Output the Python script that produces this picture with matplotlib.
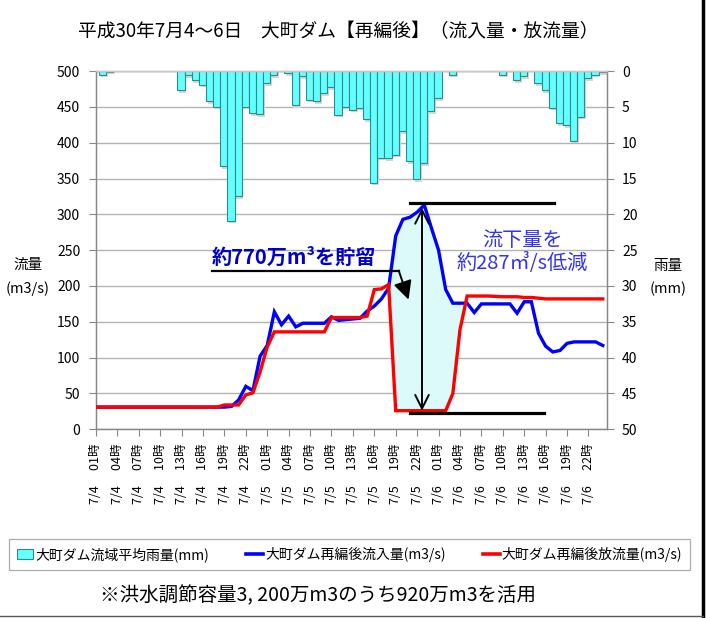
import numpy as np
import matplotlib
matplotlib.use("Agg")
import matplotlib.pyplot as plt
from matplotlib.patches import Patch
from matplotlib.lines import Line2D

plt.rcParams['font.family'] = ['Noto Sans CJK JP', 'DejaVu Sans']

# ---------------- data ----------------
days = ["7/4", "7/5", "7/6"]
hour_index = np.arange(72)          # 0 = 7/4 01時 ... 71 = 7/6 24時
tick_hours = ["01", "04", "07", "10", "13", "16", "19", "22"]
tick_labels = [f"{d}\u3000 {h}時" for d in days for h in tick_hours]

rain = [0, 0.5, 0.1, 0, 0, 0, 0, 0, 0, 0, 0, 0,
        2.7, 0.6, 1.3, 1.9, 4.2, 5.0, 13.3, 20.9, 17.5, 5.0, 5.9, 6.0,
        1.7, 0.6, 0, 0.3, 4.8, 0.7, 4.0, 4.2, 3.1, 2.3, 6.1, 5.0,
        5.4, 5.1, 6.7, 15.6, 12.1, 12.2, 11.7, 8.4, 12.6, 15.1, 12.9, 5.6,
        3.8, 0, 0.5, 0, 0, 0, 0, 0, 0, 0.5, 0, 1.3,
        0.7, 0, 1.7, 2.7, 5.1, 7.3, 7.6, 9.7, 6.4, 1.0, 0.5, 0.2]

inflow = [31, 31, 31, 31, 31, 31, 31, 31, 31, 31, 31, 31,
          31, 31, 31, 31, 31, 31, 31, 32, 41, 60, 54, 102,
          117, 164, 146, 158, 143, 148, 148, 148, 148, 157, 152, 153,
          154, 155, 165, 172, 182, 197, 270, 293, 296, 303, 313, 281,
          250, 195, 176, 176, 176, 163, 175, 175, 175, 175, 175, 162,
          178, 178, 134, 116, 108, 110, 120, 122, 122, 122, 122, 117]

outflow = [31, 31, 31, 31, 31, 31, 31, 31, 31, 31, 31, 31,
           31, 31, 31, 31, 31, 31, 34, 34, 34, 48, 51, 80,
           115, 136, 136, 136, 136, 136, 136, 136, 136, 156, 156, 156,
           156, 156, 158, 195, 196, 202, 26, 26, 26, 26, 26, 26,
           26, 26, 50, 139, 186, 186, 186, 186, 185.5, 185, 185, 185,
           184, 184, 183, 182, 182, 182, 182, 182, 182, 182, 182, 182]

title = "平成30年7月4～6日\u3000大町ダム【再編後】（流入量・放流量）"
label_rain = "大町ダム流域平均雨量(mm)"
label_in = "大町ダム再編後流入量(m3/s)"
label_out = "大町ダム再編後放流量(m3/s)"
note = "※洪水調節容量3, 200万m3のうち920万m3を活用"

# ---------------- figure ----------------
fig = plt.figure(figsize=(7.09, 6.18), dpi=100)
ax = fig.add_axes([0.1347, 0.3053, 0.7210, 0.5798])
ax2 = ax.twinx()
ax.set_zorder(ax2.get_zorder() + 1)
ax.patch.set_visible(False)

x = np.asarray(hour_index, dtype=float)
rain_a = np.asarray(rain)
inflow_a = np.asarray(inflow, dtype=float)
outflow_a = np.asarray(outflow, dtype=float)

# rainfall bars (hanging from the top, inverted right axis)
bx = x - 0.08
mask = rain_a > 0
ax2.bar(bx[mask] + 0.25, rain_a[mask] + 0.35, width=1.0, color='#d6d6d6',
        edgecolor='none', zorder=1)
ax2.bar(bx, rain_a, width=1.0, color='#66ffff', edgecolor='#2e8b8b',
        linewidth=0.8, zorder=2)
ax2.set_ylim(50, 0)
ax2.set_yticks(np.arange(0, 51, 5))
ax2.set_axisbelow(True)
ax2.yaxis.grid(True, color='#b3b3b3', linewidth=1.0)
ax2.tick_params(axis='y', labelsize=10, length=5, width=0.8, color='#888888', pad=6)

# shaded storage area
sel = (x >= 41) & (x <= 52)
ax.fill_between(x, outflow_a, inflow_a, where=sel & (inflow_a >= outflow_a),
                interpolate=True, color='#dcfafa', linewidth=0, zorder=1)

ax.plot(x, inflow_a, color='#0000ff', lw=2.4, zorder=3, solid_joinstyle='miter')
ax.plot(x, outflow_a, color='#ff0000', lw=2.4, zorder=4, solid_joinstyle='miter')

ax.set_xlim(-0.05, 71.55)
ax.set_ylim(0, 500)
ax.set_yticks(np.arange(0, 501, 50))
ax.set_xticks(np.arange(0, 72, 3))
ax.set_xticklabels(tick_labels, rotation=90, fontsize=9, va='top')
ax.tick_params(axis='x', length=5, width=0.8, color='#888888', pad=5)
ax.tick_params(axis='y', labelsize=10, length=5, width=0.8, color='#888888', pad=6)

for a in (ax, ax2):
    for s in ('left', 'right', 'bottom'):
        a.spines[s].set_color('#888888')
        a.spines[s].set_linewidth(0.9)
    a.spines['top'].set_color('#c8c8c8')
    a.spines['top'].set_linewidth(1.0)

# annotations: peak and bottom reference lines, double arrow
ax.plot([44.04, 64.1], [316.2, 316.2], color='black', lw=2.3, zorder=5)
ax.plot([44.04, 62.8], [22.3, 22.3], color='black', lw=2.3, zorder=5)
ax.annotate('', xy=(45.68, 26), xytext=(45.68, 309),
            arrowprops=dict(arrowstyle='<->,head_length=0.7,head_width=0.35',
                            color='black', lw=1.4, shrinkA=0, shrinkB=0,
                            mutation_scale=14), zorder=5)

# storage annotation
ax.plot([16.29, 42.42], [221.5, 221.5], color='black', lw=1.6, zorder=5)
ax.annotate('', xy=(43.8, 181), xytext=(42.42, 221.5),
            arrowprops=dict(arrowstyle='-|>,head_length=0.8,head_width=0.4',
                            color='black', lw=1.4, shrinkA=0, shrinkB=0,
                            mutation_scale=14), zorder=5)
ax.text(27.67, 240.5, "約770万m³を貯留", color='#0000cc', fontsize=14.5,
        fontweight='bold', ha='center', va='center', zorder=6)

ax.text(59.74, 263.8, "流下量を", color='#3333ee', fontsize=14.5,
        ha='center', va='center', zorder=6)
ax.text(59.7, 231.6, "約287㎥/s低減", color='#3333ee', fontsize=14.5,
        ha='center', va='center', zorder=6)

# axis labels
fig.text(28 / 709, 1 - 265 / 618, "流量", fontsize=10.5, ha='center', va='center')
fig.text(28 / 709, 1 - 289 / 618, "(m3/s)", fontsize=10.5, ha='center', va='center')
fig.text(668 / 709, 1 - 266 / 618, "雨量", fontsize=10.5, ha='center', va='center')
fig.text(668 / 709, 1 - 289 / 618, "(mm)", fontsize=10.5, ha='center', va='center')

# title
fig.text(338.6 / 709, 1 - 31.5 / 618, title, fontsize=13.5, ha='center', va='center')

# legend
handles = [Patch(facecolor='#66ffff', edgecolor='#2e8b8b', linewidth=0.8),
           Line2D([], [], color='#0000ff', lw=2.6),
           Line2D([], [], color='#ff0000', lw=2.6)]
leg = fig.legend(handles, [label_rain, label_in, label_out], ncol=3,
                 loc='center', bbox_to_anchor=(9 / 709, 1 - 571 / 618, 681 / 709, 33 / 618),
                 mode='expand', fontsize=10, frameon=True, fancybox=False,
                 edgecolor='#999999', handlelength=1.2, handletextpad=0.15,
                 borderaxespad=0, borderpad=0.55, columnspacing=1.0)
leg.get_frame().set_linewidth(0.9)

# footnote
fig.text(318 / 709, 1 - 596 / 618, note, fontsize=14, ha='center', va='center')

# frame lines (right and bottom)
fig.add_artist(Line2D([703 / 709, 703 / 709], [0, 1], color='black', lw=2.5,
                      transform=fig.transFigure))
fig.add_artist(Line2D([0, 703 / 709], [2 / 618, 2 / 618], color='#555555', lw=1.0,
                      transform=fig.transFigure))

fig.savefig("out.png", dpi=100)
